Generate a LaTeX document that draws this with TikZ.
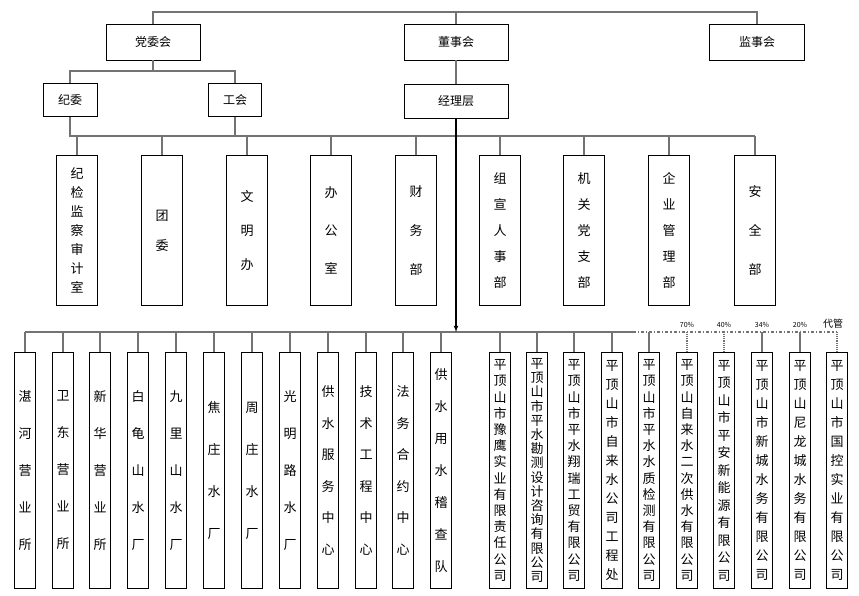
\documentclass[tikz,border=0pt]{standalone}
\usepackage{fontspec}
\setmainfont{Noto Sans CJK SC}
\begin{document}
\begin{tikzpicture}[x=1pt, y=-1pt,
  box/.style={draw, line width=0.9pt, inner sep=0pt, align=center, font=\fontsize{12}{14}\selectfont},
  mbox/.style={box, minimum width=41pt, minimum height=150pt, anchor=north},
  sbox/.style={box, minimum width=21pt, minimum height=236pt, anchor=north},
  link/.style={draw=black!55, line width=1.1pt},
  pct/.style={font=\fontsize{7}{7}\selectfont, inner sep=0pt}]
\useasboundingbox (0,0) rectangle (859,596);
  % top level
  \node [box, minimum width=94pt, minimum height=36pt] (dangwei) at (153,42) {党委会};
  \node [box, minimum width=104pt, minimum height=36pt] (dongshi) at (456,42) {董事会};
  \node [box, minimum width=95pt, minimum height=36pt] (jianshi) at (757,42) {监事会};
  \node [box, minimum width=54pt, minimum height=33pt] (jiwei) at (70,100) {纪委};
  \node [box, minimum width=53pt, minimum height=33pt] (gonghui) at (235,100) {工会};
  \node [box, minimum width=104pt, minimum height=34pt] (jingli) at (456,101) {经理层};
  \draw [link] (dangwei.north) |- (456,12) -| (jianshi.north);
  \draw [link] (dongshi.north) -- (456,12);
  \draw [link] (dongshi) -- (jingli);
  \draw [link] (dangwei.south) -- (153,71);
  \draw [link] (jiwei.north) |- (235,71) -- (gonghui.north);
  \coordinate (mbus) at (755,136);
  \draw [link] (jiwei.south) |- (mbus);
  \draw [link] (gonghui.south) -- (235,136);
  % departments
  \foreach \x/\txt/\sk in {77/纪\\检\\监\\察\\审\\计\\室/19, 162/团\\委/30, 247/文\\明\\办/34,
      331/办\\公\\室/38, 416/财\\务\\部/39, 500/组\\宣\\人\\事\\部/26, 584/机\\关\\党\\支\\部/26,
      669/企\\业\\管\\理\\部/26, 755/安\\全\\部/39} {
    \node [mbox, font=\fontsize{13}{\sk}\selectfont] (m\x) at (\x,155) {\txt};
    \draw [link] (\x,136) -- (m\x.north);
  }
  % bottom level
  \coordinate (bus) at (633,332);
  \draw [link] (25,332) -- (bus);
  \draw [link, dash dot] (bus) -- (837,332);
  \draw [link, -latex, draw=black] (jingli.south) -- (456,332);
  \foreach \x/\txt/\sk in {25/湛\\河\\营\\业\\所/37, 63/卫\\东\\营\\业\\所/37, 100/新\\华\\营\\业\\所/37,
      138/白\\龟\\山\\水\\厂/37, 176/九\\里\\山\\水\\厂/37, 214/焦\\庄\\水\\厂/42, 252/周\\庄\\水\\厂/42,
      290/光\\明\\路\\水\\厂/37, 328/供\\水\\服\\务\\中\\心/31.5, 366/技\\术\\工\\程\\中\\心/31.5,
      403/法\\务\\合\\约\\中\\心/31.5, 441/供\\水\\用\\水\\稽\\查\\队/32,
      500/平\\顶\\山\\市\\豫\\鹰\\实\\业\\有\\限\\责\\任\\公\\司/16.2,
      537/平\\顶\\山\\市\\平\\水\\勘\\测\\设\\计\\咨\\询\\有\\限\\公\\司/14.2,
      574/平\\顶\\山\\市\\平\\水\\翔\\瑞\\工\\贸\\有\\限\\公\\司/16.2,
      612/平\\顶\\山\\市\\自\\来\\水\\公\\司\\工\\程\\处/19,
      649/平\\顶\\山\\市\\平\\水\\水\\质\\检\\测\\有\\限\\公\\司/16.2} {
    \node [sbox, font=\fontsize{13}{\sk}\selectfont] (b\x) at (\x,352) {\txt};
    \draw [link] (\x,332) -- (b\x.north);
  }
  \foreach \x/\p/\txt/\sk/\sty in {687/70\%/平\\顶\\山\\自\\来\\水\\二\\次\\供\\水\\有\\限\\公\\司/16.2/densely dotted,
      724/40\%/平\\顶\\山\\市\\平\\安\\新\\能\\源\\有\\限\\公\\司/17.5/densely dotted,
      762/34\%/平\\顶\\山\\市\\新\\城\\水\\务\\有\\限\\公\\司/19/solid,
      800/20\%/平\\顶\\山\\尼\\龙\\城\\水\\务\\有\\限\\公\\司/19/solid} {
    \node [sbox, font=\fontsize{13}{\sk}\selectfont] (b\x) at (\x,352) {\txt};
    \node [pct] (p\x) at (\x,325) {\p};
    \draw [link, \sty] (\x,332) -- (b\x.north);
  }
  \node [sbox, font=\fontsize{13}{19}\selectfont] (b837) at (837,352) {平\\顶\\山\\市\\国\\控\\实\\业\\有\\限\\公\\司};
  \node [pct, font=\fontsize{10}{10}\selectfont] (p837) at (833,324) {代管};
  \draw [link, densely dotted] (837,332) -- (b837.north);
\end{tikzpicture}
\end{document}
